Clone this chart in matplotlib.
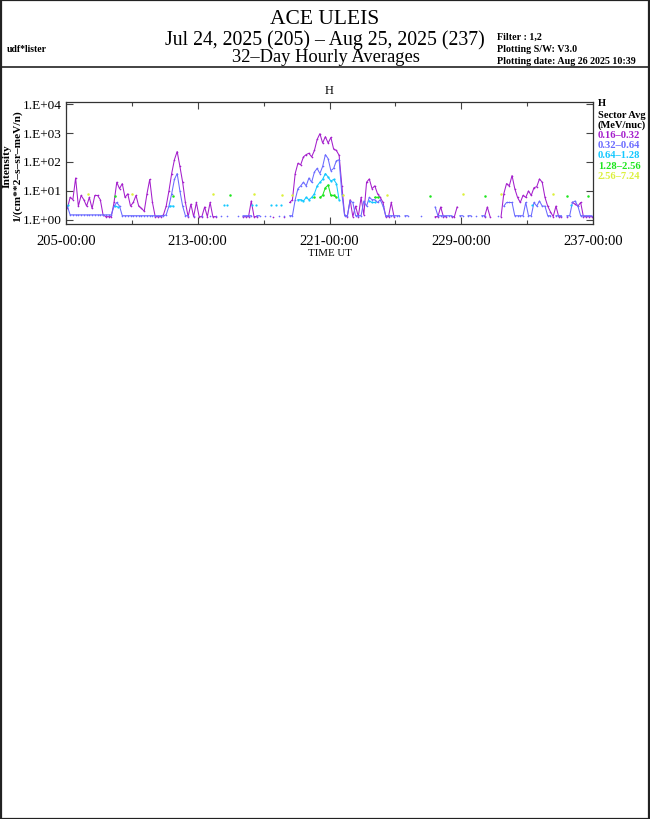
import numpy as np
import matplotlib
matplotlib.use("Agg")
import matplotlib.pyplot as plt
from matplotlib.patches import Rectangle
from matplotlib.lines import Line2D
from matplotlib.ticker import LogLocator, NullFormatter, FixedLocator

plt.rcParams['font.family'] = ['Liberation Serif', 'DejaVu Serif']

N = None
# 4-hour averages (6 per day), day 205 .. 236
h_016_032 = [
    2.5, 6, 5, 28, 3, 7,            # 205
    5, 3, 6, 2.5, 7, 7,             # 206
    5, 1.5, 1.3, 1.3, 1.3, 4,       # 207
    20, 12, 18, 6, 8, 3,            # 208
    4, 7, 3, 2.5, 2, 8,             # 209
    25, 4, 1.3, 1.3, 1.3, 1.5,      # 210
    3, 10, 40, 120, 230, 70,        # 211
    20, 4, 1.3, 3.5, 1.3, 4,        # 212
    1.3, 1.3, 2.8, 1.3, 4, 1.3,     # 213
    1.3, N, N, N, N, N,             # 214
    N, N, N, N, 1.3, 1.3,           # 215
    1.3, 4.5, 1.3, 1.3, N, N,       # 216
    N, N, N, 1.3, N, N,             # 217
    N, 1.3, N, 4, 5, 40,            # 218
    90, 80, 150, 180, 200, 150,     # 219
    250, 600, 950, 450, 750, 450,   # 220
    700, 280, 250, 170, 15, 1.5,    # 221
    1.3, 5, 1.3, 3, 1.3, 6,         # 222
    1.5, 20, 26, 12, 15, 8,         # 223
    6, 4, 1.3, 1.3, 4, 1.3,         # 224
    N, N, N, N, N, N,               # 225
    N, N, N, N, N, N,               # 226
    N, N, 1.3, 1.3, 2.8, 1.3,       # 227
    1.3, N, 1.3, 1.3, 2.8, N,       # 228
    N, N, N, N, N, N,               # 229
    N, N, 1.3, 2.8, 1.3, N,         # 230
    N, N, 1.3, 8, 18, 15,           # 231
    34, 12, 6, 4, 7, 6,             # 232
    10, 7, 13, 14, 26, 20,          # 233
    6, 3, 1.9, 1.3, 3, 1.3,         # 234
    1.3, N, 1.3, N, 4, 3.5,         # 235
    3, 4, 1.3, 1.3, 1.3, 1.3,       # 236
]

h_032_064 = [
    3, 1.5, 1.5, 1.5, 1.5, 1.5,     # 205
    1.5, 1.5, 1.5, 1.5, 1.5, 1.5,   # 206
    1.5, 1.5, 1.5, 1.5, 1.5, 3,     # 207
    4, 3, 1.4, 1.4, 1.4, 1.4,       # 208
    1.4, 1.4, 1.4, 1.4, 1.4, 1.4,   # 209
    1.4, 1.4, 1.4, 1.4, 1.4, 1.4,   # 210
    1.5, 3, 8, 25, 40, 10,          # 211
    3, 1.4, 1.4, N, 1.4, N,         # 212
    N, 1.4, N, N, 1.4, N,           # 213
    1.4, N, 1.4, N, 1.4, N,         # 214
    N, N, 1.4, N, 1.4, 1.4,         # 215
    1.4, 1.4, N, 1.4, 1.4, N,       # 216
    1.4, N, 1.4, N, N, 1.4,         # 217
    N, 1.4, N, 1.4, 1.4, 5,         # 218
    12, 15, 20, 15, 28, 20,         # 219
    45, 60, 40, 70, 180, 130,       # 220
    50, 60, 110, 120, 8, 1.4,       # 221
    1.4, 4.5, 4, 1.4, 1.4, 1.4,     # 222
    4.5, 3, 6, 5, 5, 4,             # 223
    5, 3, 1.4, 1.4, 1.4, 1.4,       # 224
    1.4, 1.4, N, 1.4, 1.4, N,       # 225
    N, N, N, 1.4, N, N,             # 226
    N, N, 2.8, 1.4, 1.4, 1.4,       # 227
    1.4, 1.4, 1.4, N, N, 1.4,       # 228
    1.4, N, 1.4, 1.4, N, 1.4,       # 229
    N, 1.4, 1.4, N, N, N,           # 230
    N, 1.4, N, 3, 4, 4,             # 231
    4, 1.4, 1.4, 1.4, 1.4, 4,       # 232
    1.4, 1.4, 4, 3, 4.5, 3,         # 233
    3, 1.4, 1.4, N, 1.4, 1.4,       # 234
    1.4, N, 1.4, 1.4, 4, 4.5,       # 235
    3, 1.4, 1.4, 1.4, 1.4, 1.4,     # 236
]

cyan_days = [205.10, 208.00, 208.15, 211.30, 211.50, 214.60, 214.80, 216.30, 216.55,
             217.45, 217.75, 218.05,
             219.08, 219.25, 219.42, 219.58, 219.75, 219.92, 220.08, 220.25, 220.42,
             220.58, 220.75, 220.92, 221.08, 221.25, 221.42, 221.58,
             223.42, 223.58, 223.75, 233.30, 235.65]
cyan_vals = [3.2, 3, 2.8, 3, 3, 3.2, 3.2, 3.2, 3.2,
             3.2, 3.2, 3.2,
             5, 5, 4.5, 6, 5, 6, 8, 15, 20,
             25, 40, 30, 22, 25, 18, 5,
             4.5, 4, 4, 3.2, 3.2]

green_days = [208.00, 211.48, 214.93, 220.08, 220.42, 220.58, 220.75, 220.92, 221.08,
              221.25, 221.42, 223.75, 223.92, 227.12, 230.44, 235.40, 236.70]
green_vals = [6.5, 6.5, 7, 6, 6, 7, 13, 16, 7,
              7, 6, 6, 6, 6.5, 6.5, 6.5, 6.5]

yellow_days = [206.36, 208.99, 213.90, 216.40, 218.10, 218.70, 221.84, 224.50,
               229.08, 231.40, 234.60]
yellow_vals = [8, 8, 8, 8, 7, 7, 7.5, 7, 8, 8, 8]

legend_labels = ['0.16-0.32', '0.32-0.64', '0.64-1.28', '1.28-2.56', '2.56-7.24']
colors = ['#a41ecc', '#6a6aff', '#14c8ff', '#1ee61e', '#dcf03c']
x_tick_days = [205, 213, 221, 229, 237]
x_tick_labels = ['205-00:00', '213-00:00', '221-00:00', '229-00:00', '237-00:00']
y_tick_vals = [1, 10, 100, 1000, 10000]
y_tick_labels = ['1.E+00', '1.E+01', '1.E+02', '1.E+03', '1.E+04']

W, H = 650, 819
fig = plt.figure(figsize=(W / 100, H / 100), dpi=100)


def fx(px):
    return px / W


def fy(py):
    return 1 - py / H


ax = fig.add_axes([fx(66), fy(224), fx(593) - fx(66), fy(102) - fy(224)])

times = 205 + (np.arange(len(h_016_032)) + 0.5) / 6.0


def segs(days, vals, gap=0.2):
    d = np.asarray(days, float)
    v = np.asarray(vals, float)
    out_d, out_v = [d[0]], [v[0]]
    for i in range(1, len(d)):
        if d[i] - d[i - 1] > gap:
            out_d.append(np.nan)
            out_v.append(np.nan)
        out_d.append(d[i])
        out_v.append(v[i])
    return np.array(out_d), np.array(out_v)


ax.plot(times, np.array(h_016_032, dtype=float), color=colors[0], lw=0.75,
        marker='o', ms=1.2, mew=0)
ax.plot(times, np.array(h_032_064, dtype=float), color=colors[1], lw=0.75,
        marker='o', ms=1.2, mew=0)
cd, cv = segs(cyan_days, cyan_vals)
ax.plot(cd, cv, color=colors[2], lw=0.75, marker='o', ms=1.6, mew=0)
gd, gv = segs(green_days, green_vals)
ax.plot(gd, gv, color=colors[3], lw=0.75, marker='o', ms=1.8, mew=0)
ax.plot(yellow_days, yellow_vals, color=colors[4], lw=0, marker='o', ms=1.8, mew=0)

ax.set_yscale('log')
ax.set_ylim(10 ** -0.14, 10 ** 4.07)
ax.set_xlim(205, 237)
ax.set_xticks(x_tick_days)
ax.set_xticklabels(x_tick_labels, fontsize=10.5)
ax.xaxis.set_minor_locator(FixedLocator([209, 217, 225, 233]))
ax.set_yticks(y_tick_vals)
ax.set_yticklabels(y_tick_labels, fontsize=9.5)
ax.yaxis.set_minor_locator(LogLocator(base=10, subs=np.arange(2, 10)))
ax.yaxis.set_minor_formatter(NullFormatter())
ax.tick_params(which='both', direction='in', top=True, right=True, width=0.8, color='#444444')
ax.tick_params(which='major', length=5)
ax.tick_params(which='minor', length=3)
ax.tick_params(axis='x', which='major', pad=8)
ax.tick_params(axis='y', which='major', pad=3)
for s in ax.spines.values():
    s.set_linewidth(0.9)
    s.set_color('#333333')

# header
fig.text(fx(325), fy(19), 'ACE ULEIS', ha='center', va='center', fontsize=15.5)
fig.text(fx(325), fy(40), 'Jul 24, 2025 (205) \u2013 Aug 25, 2025 (237)', ha='center',
         va='center', fontsize=14.2)
fig.text(fx(326), fy(57), '32\u2013Day Hourly Averages', ha='center', va='center', fontsize=13.3)
fig.text(fx(7), fy(49), 'udf*lister', ha='left', va='center', fontsize=7.0, fontweight='bold')
fig.text(fx(497), fy(37), 'Filter : 1,2', ha='left', va='center', fontsize=7.2, fontweight='bold')
fig.text(fx(497), fy(49), 'Plotting S/W: V3.0', ha='left', va='center', fontsize=7.2,
         fontweight='bold')
fig.text(fx(497), fy(61), 'Plotting date: Aug 26 2025 10:39', ha='left', va='center',
         fontsize=7.2, fontweight='bold')
fig.add_artist(Line2D([0, 1], [fy(67), fy(67)], transform=fig.transFigure, color='#222222',
                      lw=1.2))
fig.add_artist(Rectangle((0.0008, 0.0006), 0.9984, 0.9988, transform=fig.transFigure,
                         fill=False, lw=1.6, ec='#222222'))

# panel labels
fig.text(fx(329.5), fy(91), 'H', ha='center', va='center', fontsize=9)
fig.text(fx(329.5), fy(254), 'TIME UT', ha='center', va='center', fontsize=7.8)
fig.text(fx(7), fy(166), 'Intensity', ha='center', va='center', rotation=90, fontsize=8.2,
         fontweight='bold')
fig.text(fx(17.5), fy(166), '1/(cm**2\u2013s\u2013sr\u2013meV/n)', ha='center', va='center',
         rotation=90, fontsize=8.2, fontweight='bold')

# legend
fig.text(fx(598), fy(104), 'H', ha='left', va='center', fontsize=7.6, fontweight='bold')
fig.text(fx(598), fy(115), 'Sector Avg', ha='left', va='center', fontsize=7.6, fontweight='bold')
fig.text(fx(598), fy(125), '(MeV/nuc)', ha='left', va='center', fontsize=7.6, fontweight='bold')
for i, (lab, c) in enumerate(zip(legend_labels, colors)):
    fig.text(fx(598), fy(135.3 + i * 10.35), lab.replace('-', '\u2013'), ha='left', va='center',
             fontsize=7.6, fontweight='bold', color=c)

fig.savefig('out.png', dpi=100)
